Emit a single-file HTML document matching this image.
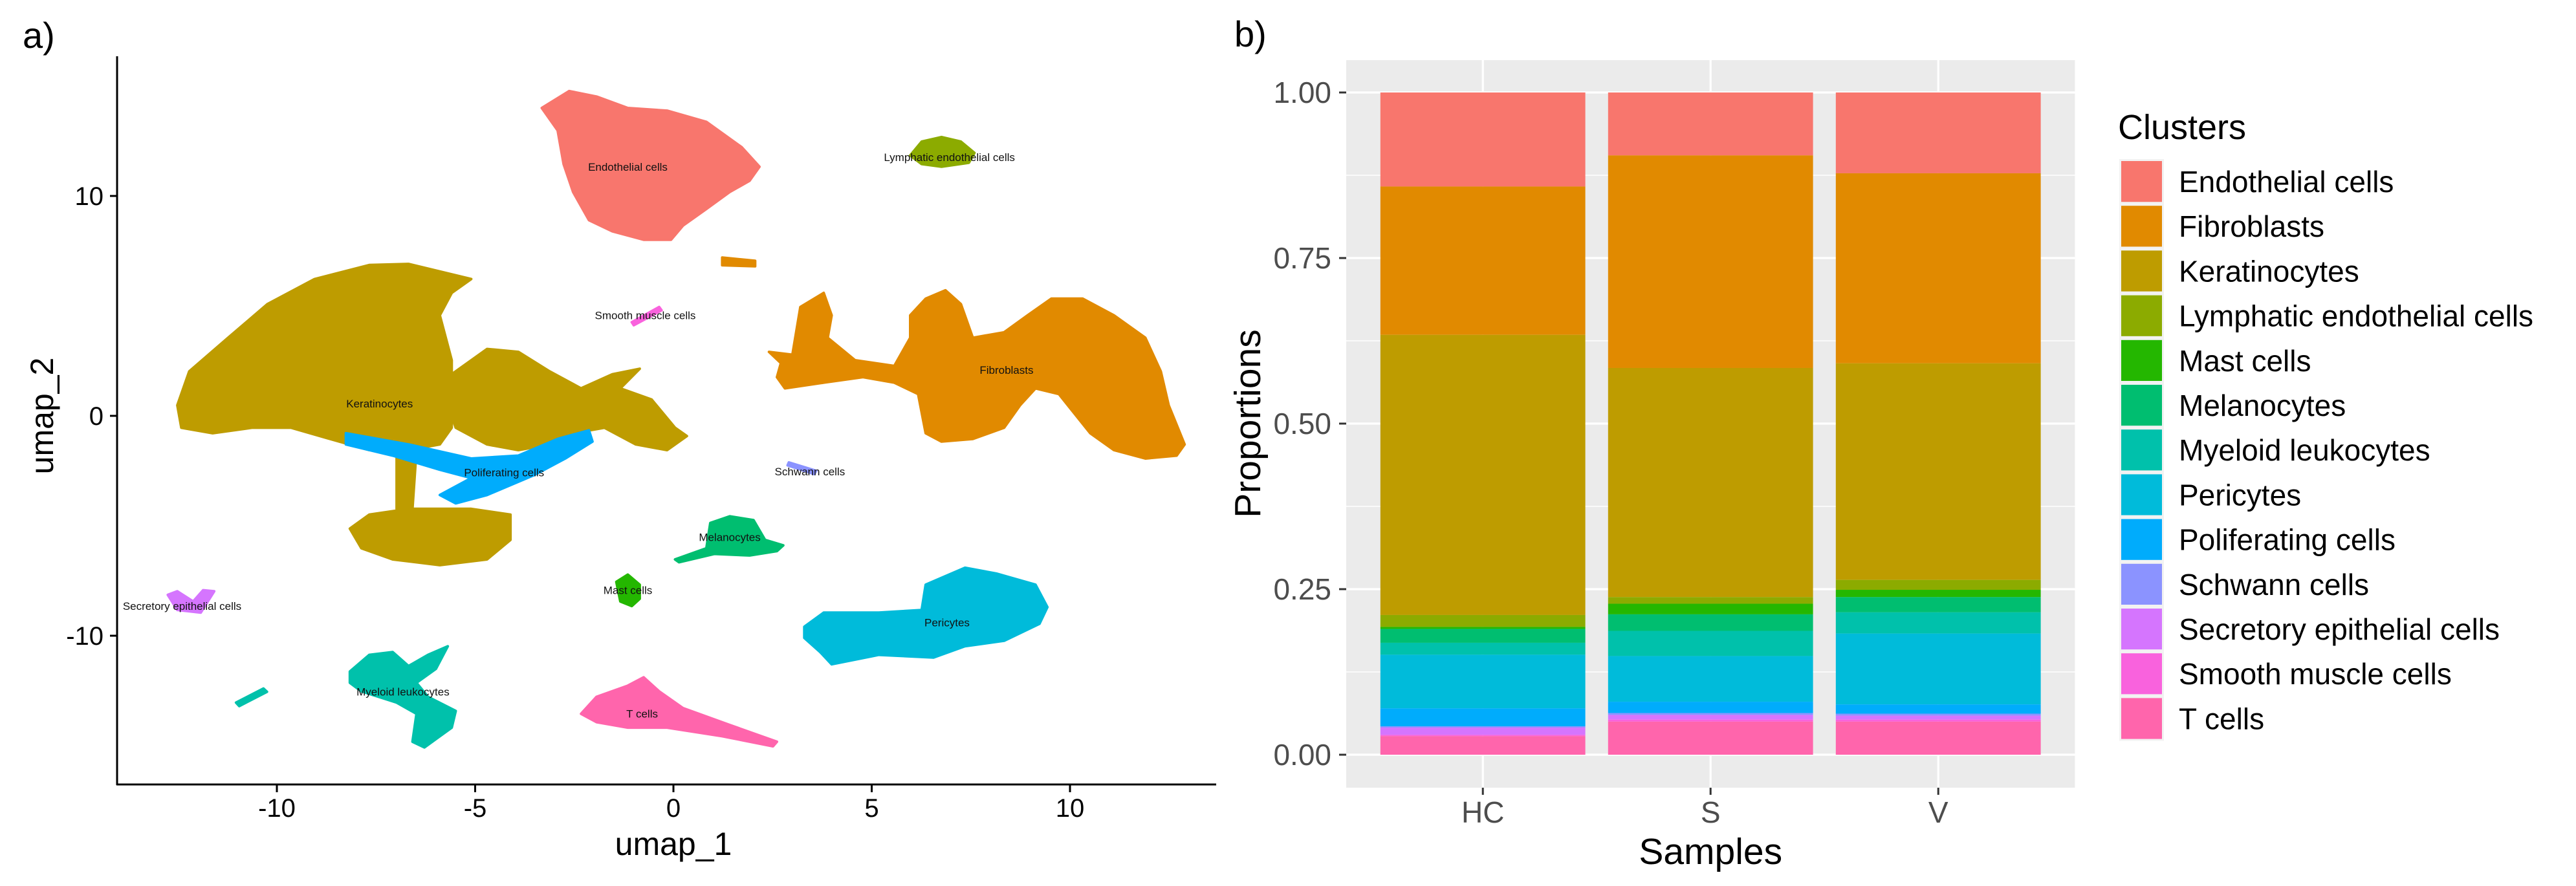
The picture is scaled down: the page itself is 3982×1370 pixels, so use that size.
<!DOCTYPE html>
<html><head><meta charset="utf-8"><style>
html,body{margin:0;padding:0;background:#fff;}
svg{display:block;font-family:"Liberation Sans",Arial,sans-serif;}
</style></head><body>
<svg id="fig" width="3982" height="1370" viewBox="0 0 3982 1370" xmlns="http://www.w3.org/2000/svg">
<rect width="3982" height="1370" fill="#fff"/>
<g id="pa"></g>
<g id="pb"></g>
</svg>
<script>
// ---------- Panel b data ----------
const samples = ["HC","S","V"];
const clusters = ["Endothelial cells","Fibroblasts","Keratinocytes","Lymphatic endothelial cells","Mast cells","Melanocytes","Myeloid leukocytes","Pericytes","Poliferating cells","Schwann cells","Secretory epithelial cells","Smooth muscle cells","T cells"];
const clusterColors = ["#F8766D","#E18A00","#BE9C00","#8CAB00","#24B700","#00BE70","#00C1AB","#00BBDA","#00ACFC","#8B93FF","#D575FE","#F962DD","#FF65AC"];
const propHC = [0.142,0.224,0.423,0.018,0.003,0.021,0.018,0.081,0.027,0.002,0.011,0.002,0.028];
const propS  = [0.095,0.321,0.346,0.010,0.016,0.025,0.038,0.069,0.017,0.003,0.007,0.003,0.050];
const propV  = [0.122,0.287,0.327,0.015,0.011,0.023,0.032,0.107,0.014,0.003,0.006,0.003,0.050];
const yTicksB = [0,0.25,0.5,0.75,1];
const yTickLabelsB = ["0.00","0.25","0.50","0.75","1.00"];

// ---------- Panel a data (UMAP cluster outlines in data units) ----------
const xTicksA = [-10,-5,0,5,10];
const yTicksA = [-10,0,10];
const shapeEndothelial = [[-3.32,14.0],[-2.63,14.77],[-1.94,14.52],[-1.15,14.0],[-0.16,13.88],[0.83,13.37],[1.72,12.22],[2.17,11.33],[1.92,10.69],[1.42,10.18],[0.83,9.41],[0.24,8.65],[-0.06,8.01],[-0.75,8.01],[-1.54,8.39],[-2.13,8.9],[-2.53,10.18],[-2.77,11.45],[-2.92,12.98]];
const shapeLymphatic = [[5.97,11.84],[6.26,12.47],[6.76,12.68],[7.25,12.47],[7.59,11.96],[7.45,11.51],[6.76,11.33],[6.26,11.45]];
const shapeKerUpper = [[-12.51,0.48],[-12.21,2.02],[-11.23,3.55],[-10.24,5.08],[-9.05,6.22],[-7.67,6.86],[-6.68,6.91],[-5.10,6.22],[-5.59,5.59],[-5.89,4.57],[-5.59,2.53],[-5.59,-0.54],[-5.89,-1.30],[-6.68,-1.56],[-7.67,-1.56],[-8.66,-1.05],[-9.64,-0.54],[-10.63,-0.54],[-11.62,-0.79],[-12.41,-0.54]];
const shapeKerWing = [[-5.89,1.51],[-4.70,3.04],[-3.91,2.91],[-3.12,2.02],[-2.33,1.25],[-1.54,1.89],[-0.85,2.14],[-1.34,1.25],[-0.55,0.74],[0.04,-0.54],[0.34,-0.92],[-0.16,-1.56],[-0.95,-1.30],[-1.74,-0.54],[-2.53,-0.79],[-3.12,-1.30],[-3.91,-1.56],[-4.70,-1.30],[-5.49,-0.54]];
const shapeKerLower = [[-8.16,-5.13],[-7.67,-4.49],[-6.68,-4.23],[-5.10,-4.23],[-4.11,-4.49],[-4.11,-5.64],[-4.70,-6.53],[-5.89,-6.79],[-7.08,-6.53],[-7.87,-6.02]];
const shapeKerStem = [[-6.98,-1.56],[-6.48,-1.56],[-6.58,-4.23],[-6.98,-4.23]];
const shapeProlif = [[-8.26,-0.79],[-6.68,-1.30],[-5.10,-1.94],[-3.91,-1.81],[-2.92,-1.05],[-2.13,-0.66],[-2.04,-1.17],[-2.73,-1.94],[-3.52,-2.70],[-4.70,-3.60],[-5.49,-3.98],[-5.89,-3.60],[-5.10,-2.83],[-5.89,-2.45],[-7.08,-1.81],[-8.26,-1.30]];
const shapeFibro = [[2.41,2.91],[3.00,2.78],[3.20,4.95],[3.79,5.59],[3.99,4.57],[3.89,3.55],[4.58,2.53],[5.57,2.27],[5.97,3.55],[5.97,4.57],[6.36,5.33],[6.86,5.71],[7.25,5.08],[7.55,3.55],[8.34,3.80],[8.93,4.57],[9.53,5.33],[10.32,5.33],[11.11,4.57],[11.90,3.55],[12.29,2.02],[12.49,0.48],[12.89,-1.30],[12.69,-1.81],[11.90,-1.94],[11.11,-1.56],[10.51,-0.79],[9.72,0.99],[9.13,1.25],[8.74,0.48],[8.34,-0.54],[7.55,-1.05],[6.76,-1.17],[6.36,-0.79],[6.17,0.99],[5.57,1.51],[4.78,1.76],[3.79,1.51],[2.81,1.25],[2.61,1.76],[2.71,2.40]];
const shapeFibroBit = [[1.23,7.2],[2.06,7.05],[2.06,6.8],[1.23,6.85]];
const shapeMelano = [[0.04,-6.53],[0.83,-6.02],[0.93,-4.87],[1.42,-4.57],[2.02,-4.74],[2.31,-5.64],[2.77,-5.89],[2.61,-6.15],[1.92,-6.35],[1.03,-6.28],[0.14,-6.66]];
const shapeMast = [[-1.44,-7.55],[-1.15,-7.22],[-0.85,-7.68],[-0.85,-8.32],[-1.05,-8.65],[-1.34,-8.44]];
const shapePericytes = [[3.30,-9.59],[3.79,-8.95],[5.18,-8.95],[6.26,-8.83],[6.36,-7.68],[7.35,-6.91],[8.14,-7.17],[9.13,-7.68],[9.43,-8.70],[9.23,-9.46],[8.34,-10.23],[7.35,-10.48],[6.56,-10.99],[5.18,-10.87],[3.99,-11.30],[3.70,-10.74],[3.30,-10.10]];
const shapeMyeloid = [[-8.16,-11.63],[-7.67,-10.87],[-7.08,-10.74],[-6.68,-11.38],[-6.19,-10.87],[-5.69,-10.48],[-5.99,-11.51],[-6.48,-12.14],[-6.19,-12.78],[-5.49,-13.42],[-5.59,-14.18],[-6.28,-15.08],[-6.58,-14.82],[-6.48,-13.55],[-6.98,-13.04],[-7.87,-12.53],[-8.16,-12.14]];
const shapeMyeloidBit = [[-11.03,-13.04],[-10.34,-12.40],[-10.25,-12.55],[-10.95,-13.2]];
const shapeTcells = [[-2.33,-13.55],[-1.94,-12.78],[-1.15,-12.27],[-0.75,-11.89],[-0.36,-12.53],[0.24,-13.29],[1.42,-14.06],[2.61,-14.82],[2.51,-15.03],[1.23,-14.57],[-0.16,-14.18],[-1.15,-14.18],[-1.94,-13.93]];
const shapeSecretory = [[-12.75,-8.14],[-12.51,-7.98],[-12.11,-8.44],[-11.86,-7.93],[-11.58,-7.98],[-11.92,-8.95],[-12.51,-8.83]];
const shapeSmooth = [[-1.05,4.26],[-0.36,4.95],[-0.30,4.80],[-1.0,4.12]];
const shapeSchwann = [[2.91,-2.12],[3.60,-2.50],[3.55,-2.65],[2.88,-2.25]];
const umapShapes = [
 ["endothelial-cluster",0,shapeEndothelial],["lymphatic-cluster",3,shapeLymphatic],
 ["keratinocyte-cluster-main",2,shapeKerUpper],["keratinocyte-cluster-wing",2,shapeKerWing],
 ["keratinocyte-cluster-lower",2,shapeKerLower],["keratinocyte-cluster-stem",2,shapeKerStem],
 ["proliferating-cluster",8,shapeProlif],["fibroblast-cluster",1,shapeFibro],["fibroblast-fragment",1,shapeFibroBit],
 ["melanocyte-cluster",5,shapeMelano],["mast-cluster",4,shapeMast],["pericyte-cluster",7,shapePericytes],
 ["myeloid-cluster",6,shapeMyeloid],["myeloid-fragment",6,shapeMyeloidBit],["t-cell-cluster",12,shapeTcells],
 ["secretory-cluster",10,shapeSecretory],["smooth-muscle-cluster",11,shapeSmooth],["schwann-cluster",9,shapeSchwann]
];
const labelNames = ["Endothelial cells","Lymphatic endothelial cells","Smooth muscle cells","Fibroblasts","Keratinocytes","Poliferating cells","Schwann cells","Melanocytes","Mast cells","Secretory epithelial cells","Pericytes","Myeloid leukocytes","T cells"];
const labelX = [-1.15,6.96,-0.71,8.40,-7.41,-4.27,3.44,1.42,-1.15,-12.39,6.90,-6.82,-0.79];
const labelY = [11.33,11.76,4.57,2.09,0.56,-2.58,-2.53,-5.51,-7.93,-8.65,-9.39,-12.55,-13.55];

const NS="http://www.w3.org/2000/svg";
function mk(parent,tag,attrs,text){const e=document.createElementNS(NS,tag);for(const k in attrs)e.setAttribute(k,attrs[k]);if(text!==undefined)e.textContent=text;parent.appendChild(e);return e;}

// ---------- Panel a ----------
const pa=document.getElementById('pa');
const ax=v=>1041+61.3*v, ay=v=>643-34.0*v;
umapShapes.forEach(s=>{
  const p=mk(pa,'polygon',{points:s[2].map(q=>ax(q[0]).toFixed(1)+','+ay(q[1]).toFixed(1)).join(' '),fill:clusterColors[s[1]],stroke:clusterColors[s[1]],'stroke-width':4,'stroke-linejoin':'round'});
  
  
});
labelNames.forEach((n,i)=>{
  const t=mk(pa,'text',{x:ax(labelX[i]),y:ay(labelY[i])+6,'font-size':17,'text-anchor':'middle',fill:'#111'},n);
  
  
});
let l=mk(pa,'line',{x1:181,y1:87,x2:181,y2:1214,stroke:'#000','stroke-width':3});


l=mk(pa,'line',{x1:180,y1:1213,x2:1880,y2:1213,stroke:'#000','stroke-width':3});


xTicksA.forEach(v=>{
  const tk=mk(pa,'line',{x1:ax(v),y1:1213,x2:ax(v),y2:1225,stroke:'#000','stroke-width':3});
  
  
  const t=mk(pa,'text',{x:ax(v),y:1263,'font-size':40,'text-anchor':'middle',fill:'#000'},String(v));
  
  
});
yTicksA.forEach(v=>{
  const tk=mk(pa,'line',{x1:170,y1:ay(v),x2:181,y2:ay(v),stroke:'#000','stroke-width':3});
  
  
  const t=mk(pa,'text',{x:160,y:ay(v)+14,'font-size':40,'text-anchor':'end',fill:'#000'},String(v));
  
  
});
let t=mk(pa,'text',{x:1041,y:1322,'font-size':50,'text-anchor':'middle',fill:'#000'},'umap_1');


t=mk(pa,'text',{x:0,y:0,'font-size':50,'text-anchor':'middle',fill:'#000',transform:'translate(82,643) rotate(-90)'},'umap_2');


t=mk(pa,'text',{x:35,y:74,'font-size':56,fill:'#000'},'a)');



// ---------- Panel b ----------
const pb=document.getElementById('pb');
const UNIT=352;
const PL=2081,PR=PL+3.2*UNIT,PT=93,PBm=1218;
const by=v=>1167-1024*v;
const bx=i=>PL+UNIT*(i+0.6);
const bw=0.9*UNIT;
let bg=mk(pb,'rect',{x:PL,y:PT,width:PR-PL,height:PBm-PT,fill:'#EBEBEB'});


for(let i=0;i<yTicksB.length-1;i++){
  const m=(yTicksB[i]+yTicksB[i+1])/2;
  const g=mk(pb,'line',{x1:PL,y1:by(m),x2:PR,y2:by(m),stroke:'#fff','stroke-width':1.6});
  
  
}
yTicksB.forEach(v=>{
  const g=mk(pb,'line',{x1:PL,y1:by(v),x2:PR,y2:by(v),stroke:'#fff','stroke-width':3.2});
  
  
});
samples.forEach((s,i)=>{
  const g=mk(pb,'line',{x1:bx(i),y1:PT,x2:bx(i),y2:PBm,stroke:'#fff','stroke-width':3.2});
  
  
});
const allProps=[propHC,propS,propV];
samples.forEach((s,i)=>{
  let top=1;
  allProps[i].forEach((p,k)=>{
    const bot=top-p;
    const r=mk(pb,'rect',{x:bx(i)-bw/2,y:by(top),width:bw,height:Math.max(0,by(bot)-by(top)),fill:clusterColors[k]});
    
    
    top=bot;
  });
});
yTicksB.forEach((v,i)=>{
  const tk=mk(pb,'line',{x1:2070,y1:by(v),x2:2081,y2:by(v),stroke:'#333','stroke-width':3});
  
  
  const tx=mk(pb,'text',{x:2058,y:by(v)+16,'font-size':46,'text-anchor':'end',fill:'#4D4D4D'},yTickLabelsB[i]);
  
  
});
samples.forEach((s,i)=>{
  const tk=mk(pb,'line',{x1:bx(i),y1:PBm,x2:bx(i),y2:PBm+11,stroke:'#333','stroke-width':3});
  
  
  const tx=mk(pb,'text',{x:bx(i),y:1272,'font-size':46,'text-anchor':'middle',fill:'#4D4D4D'},s);
  
  
});
t=mk(pb,'text',{x:(PL+PR)/2,y:1336,'font-size':57,'text-anchor':'middle',fill:'#000'},'Samples');


t=mk(pb,'text',{x:0,y:0,'font-size':57,'text-anchor':'middle',fill:'#000',transform:'translate(1948,655) rotate(-90)'},'Proportions');


t=mk(pb,'text',{x:1908,y:72,'font-size':56,fill:'#000'},'b)');


// legend
const lg=mk(pb,'g',{});


t=mk(lg,'text',{x:3274,y:215,'font-size':54,fill:'#000'},'Clusters');


clusters.forEach((c,k)=>{
  const y0=246+69.2*k;
  const r=mk(lg,'rect',{x:3277.5,y:y0+1.5,width:66,height:66.2,fill:clusterColors[k],stroke:'#F2F2F2','stroke-width':3});
  
  
  const tx=mk(lg,'text',{x:3368,y:y0+51,'font-size':46,fill:'#000'},c);
  
  
});
</script>
</body></html>
